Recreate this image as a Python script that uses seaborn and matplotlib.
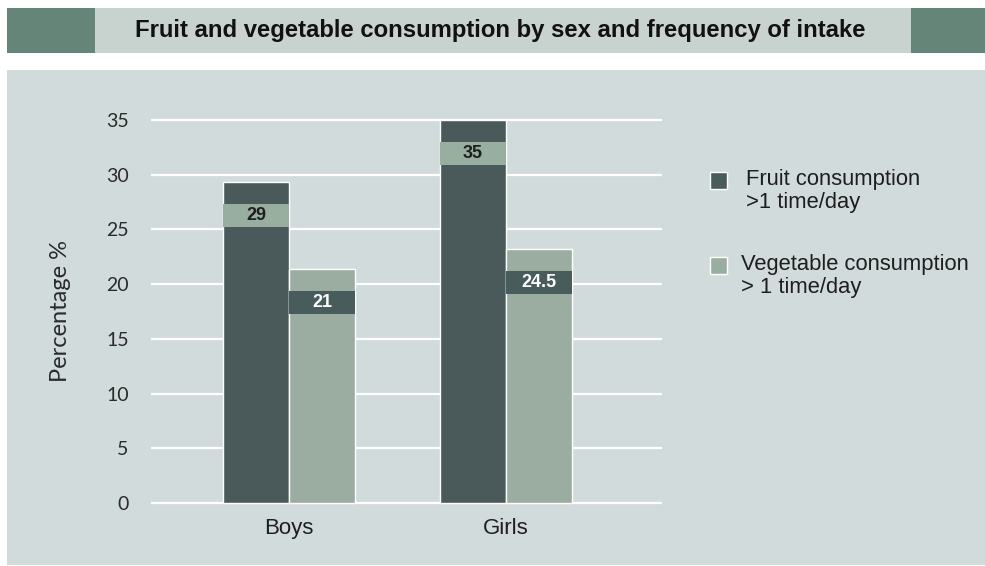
import matplotlib
matplotlib.use("Agg")
import matplotlib.pyplot as plt
from matplotlib.patches import Rectangle
import seaborn as sns
import pandas as pd

# data
groups = ["Boys", "Girls"]
series = ["Fruit consumption\n>1 time/day", "Vegetable consumption\n> 1 time/day"]
fruit = [29.3, 35.0]
vegetable = [21.4, 23.2]
fruit_labels = ["29", "35"]
veg_labels = ["21", "24.5"]
yticks = [0, 5, 10, 15, 20, 25, 30, 35]

dark = "#485c5c"
light = "#98afa0"
panel = "#d1dbdc"

df = pd.DataFrame({
    "group": groups * 2,
    "series": [series[0]] * 2 + [series[1]] * 2,
    "value": fruit + vegetable,
})

sns.set_style("white", {"axes.facecolor": panel, "grid.color": "white"})

fig = plt.figure(figsize=(9.85, 5.66), dpi=100)
fig.patch.set_facecolor("white")

W, H = 985.0, 566.0

def fx(px):
    return px / W

def fy(py):
    return 1 - py / H

# title banner
fig.add_artist(Rectangle((fx(7), fy(53)), fx(978), 45 / H, transform=fig.transFigure,
                         fc="#c8d3cf", ec="none", zorder=0))
fig.add_artist(Rectangle((fx(7), fy(53)), fx(88), 45 / H, transform=fig.transFigure,
                         fc="#648578", ec="none", zorder=0))
fig.add_artist(Rectangle((fx(911), fy(53)), fx(74), 45 / H, transform=fig.transFigure,
                         fc="#648578", ec="none", zorder=0))
fig.text(fx(500), fy(31), "Fruit and vegetable consumption by sex and frequency of intake",
         ha="center", va="center", fontsize=17.2, fontweight="bold",
         family="Liberation Sans", color="#111111")

# chart panel
fig.add_artist(Rectangle((fx(7), fy(565)), fx(978), (565 - 70) / H, transform=fig.transFigure,
                         fc=panel, ec="none", zorder=0))

ymin, ymax = -0.2, 35.2
px_per = (503 - 120) / 35.0
ax_bottom = fy(503 + 0.2 * px_per)
ax_top = fy(120 - 0.2 * px_per)
ax = fig.add_axes([fx(151), ax_bottom, fx(662 - 151), ax_top - ax_bottom])
ax.set_facecolor(panel)

sns.barplot(data=df, x="group", y="value", hue="series", palette=[dark, light],
            width=0.608, gap=0, edgecolor="white", linewidth=1.0, ax=ax,
            legend=False, zorder=3)

ax.set_xlim(-0.636, 1.719)
ax.set_ylim(ymin, ymax)
ax.set_yticks(yticks)
ax.yaxis.grid(True, color="white", linewidth=1.6, zorder=0)
ax.xaxis.grid(False)
for s in ax.spines.values():
    s.set_visible(False)
ax.tick_params(axis="y", length=0, pad=16, labelsize=14, labelcolor="#2a2a2a")
ax.tick_params(axis="x", length=0, pad=9, labelsize=16, labelcolor="#1e1e1e")
for t in ax.get_yticklabels():
    t.set_family("Lato")
for t in ax.get_xticklabels():
    t.set_family("Liberation Sans")
ax.set_xlabel("")
ax.set_ylabel("Percentage %", family="Lato", fontsize=17, color="#2a2a2a", labelpad=25)

# value label bands inside each bar
bars = ax.patches
labels = fruit_labels + veg_labels
band_fc = [light, light, dark, dark]
text_c = ["#1e1e1e", "#1e1e1e", "white", "white"]
for p, lab, fc, tc in zip(bars, labels, band_fc, text_c):
    top = p.get_height()
    ax.add_patch(Rectangle((p.get_x(), top - 4.1), p.get_width(), 2.1,
                           fc=fc, ec="none", zorder=4))
    ax.text(p.get_x() + p.get_width() / 2, top - 3.05, lab, ha="center", va="center",
            fontsize=13, fontweight="bold", color=tc, family="Liberation Sans", zorder=5)

# legend
for py, tx, fc, lab in [(172, 746, dark, series[0]), (257, 741, light, series[1])]:
    fig.add_artist(Rectangle((fx(710), fy(py + 17)), fx(17), 17 / H, transform=fig.transFigure,
                             fc=fc, ec="white", lw=1.0))
    fig.text(fx(tx), fy(py - 3), lab, ha="left", va="top",
             fontsize=15.8, family="Liberation Sans", color="#1e1e1e", linespacing=1.13)

fig.savefig("out.png", dpi=100)
